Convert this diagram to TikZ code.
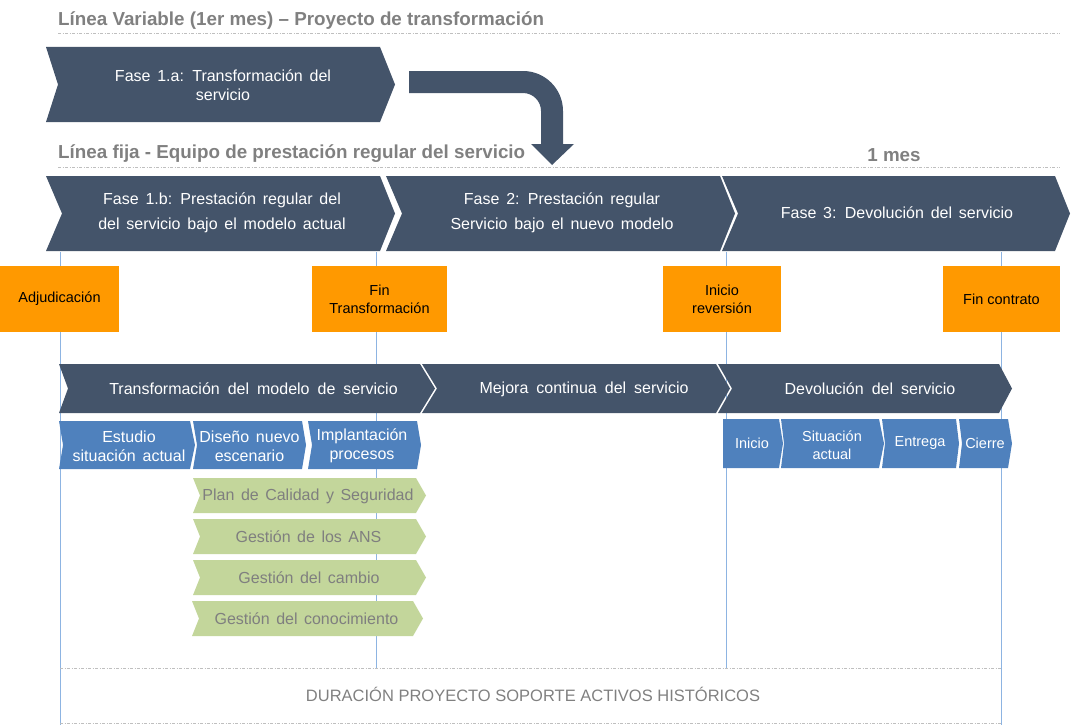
\documentclass[tikz,border=0pt]{standalone}
\usepackage{fontspec}
\setmainfont{Liberation Sans}
\definecolor{slate}{HTML}{44546A}
\definecolor{cblue}{HTML}{4F81BD}
\definecolor{cgreen}{HTML}{C3D69B}
\definecolor{corange}{HTML}{FF9900}
\definecolor{tgray}{HTML}{808080}
\definecolor{ggray}{HTML}{7F7F7F}
\definecolor{vline}{HTML}{8DB4E2}
\definecolor{dline}{HTML}{BFBFBF}
\newcommand\wsA{\spaceskip 6.8pt plus 1pt minus 1pt\relax}
\newcommand\wsB{\spaceskip 8pt plus 1pt minus 1pt\relax}
\newcommand\wsC{\spaceskip 6.5pt plus 1pt minus 1pt\relax}
% #1 colour, #2 x left, #3 x right-top, #4 tip depth, #5 notch depth, #6 y top, #7 y bottom
\newcommand\chev[7]{\fill[#1] (#2,#6) -- (#3,#6) -- ({#3+#4},{(#6+#7)/2}) -- (#3,#7) -- (#2,#7) -- ({#2+#5},{(#6+#7)/2}) -- cycle;}
\begin{document}
\begin{tikzpicture}[x=1pt,y=-1pt,
  dashline/.style={draw=dline, line width=0.8pt, dash pattern=on 3pt off 1.5pt on 1pt off 1.5pt},
  vl/.style={draw=vline, line width=0.9pt},
  ttl/.style={text=tgray, font=\bfseries\fontsize{18.8}{22}\selectfont, anchor=base west, inner sep=0pt},
  wtxt/.style={text=white, align=center, inner sep=0pt, font=\fontsize{16}{25}\selectfont\wsA},
  wtxtb/.style={text=white, align=center, inner sep=0pt, font=\fontsize{16}{19}\selectfont\wsA},
  wtxtr/.style={text=white, align=center, inner sep=0pt, font=\fontsize{16}{19}\selectfont\wsB},
  wtxts/.style={text=white, align=center, inner sep=0pt, font=\fontsize{14.5}{18}\selectfont},
  gtxt/.style={text=ggray, align=center, inner sep=0pt, font=\fontsize{16}{19}\selectfont\wsC},
  obox/.style={fill=corange, minimum height=66pt, inner sep=0pt, text=black, align=center, font=\fontsize{14.5}{18}\selectfont}
]
\useasboundingbox (0,0) rectangle (1073,725);

% timeline markers (behind everything)
\coordinate (v1t) at (60,252);   \coordinate (v1b) at (60,725);
\coordinate (v2t) at (376,252);  \coordinate (v2b) at (376,668);
\coordinate (v3t) at (726,252);  \coordinate (v3b) at (726,668);
\coordinate (v4t) at (1001,252); \coordinate (v4b) at (1001,725);
\draw[vl] (v1t) -- (v1b);
\draw[vl] (v2t) -- (v2b);
\draw[vl] (v3t) -- (v3b);
\draw[vl] (v4t) -- (v4b);

% titles and dashed rules
\node[ttl] (t1) at (58,25.5) {Línea Variable (1er mes) – Proyecto de transformación};
\coordinate (d1a) at (58,33); \coordinate (d1b) at (1060,33);
\draw[dashline] (d1a) -- (d1b);
\node[ttl] (t2) at (58,158) {Línea fija - Equipo de prestación regular del servicio};
\node[ttl, anchor=base] (t3) at (894,161.5) {1 mes};
\coordinate (d2a) at (58,167); \coordinate (d2b) at (1060,167);
\draw[dashline] (d2a) -- (d2b);

% Fase 1.a
\chev{slate}{46}{380}{15}{12}{47}{122}
\node[wtxtb] (f1a) at (223,85) {Fase 1.a: Transformación del\\servicio};

% curved arrow
\fill[slate] (409,71) -- (523,71) arc[start angle=90, end angle=0, radius=40pt]
  -- (563,144) -- (574,144) -- (552,165) -- (531,144) -- (541,144) -- (541,111)
  arc[start angle=0, end angle=90, radius=18pt] -- (409,93) -- cycle;

% phase row
\chev{slate}{46}{380}{15}{16}{176}{251}
\chev{slate}{386}{720}{15}{16}{176}{251}
\chev{slate}{722}{1055}{15}{16}{176}{251}
\node[wtxt] (f1b) at (222,213) {Fase 1.b: Prestación regular del\\del servicio bajo el modelo actual};
\node[wtxt] (f2) at (562,213) {Fase 2: Prestación regular\\Servicio bajo el nuevo modelo};
\node[wtxt] (f3) at (897,213) {Fase 3: Devolución del servicio};

% milestones
\node[obox, minimum width=119pt] (m1) at (59.5,299) {Adjudicación};
\node[obox, minimum width=135pt] (m2) at (379.5,299) {Fin\\Transformación};
\node[obox, minimum width=118pt] (m3) at (722,299) {Inicio\\reversión};
\node[obox, minimum width=117pt] (m4) at (1001.5,299) {Fin contrato};

% second row
\chev{slate}{59}{420}{15}{9}{364}{413}
\chev{slate}{422}{716}{14}{15}{364}{413}
\chev{slate}{718}{999}{13}{14}{364}{413}
\node[wtxtr] (r1) at (253.5,389) {Transformación del modelo de servicio};
\node[wtxtr] (r2) at (584,389) {Mejora continua del servicio};
\node[wtxtr] (r3) at (870,389) {Devolución del servicio};

% blue steps (left)
\chev{cblue}{59}{190}{5}{4}{421}{469}
\chev{cblue}{193}{302}{4}{4}{421}{469}
\chev{cblue}{308}{417}{4}{4}{421}{469}
\node[wtxtb] (b1) at (129,446) {Estudio\\situación actual};
\node[wtxtb] (b2) at (249.5,446) {Diseño nuevo\\escenario};
\node[wtxtb] (b3) at (362,446) {Implantación\\procesos};

% blue steps (right)
\chev{cblue}{723}{779}{4}{0}{419}{468}
\chev{cblue}{781}{879}{5}{3}{419}{468}
\chev{cblue}{882}{956}{3}{3}{419}{468}
\chev{cblue}{959}{1008}{4}{3}{419}{468}
\node[wtxts] (b4) at (752,443.5) {Inicio};
\node[wtxts] (b5) at (832,445) {Situación\\actual};
\node[wtxts] (b6) at (920,443.5) {Entrega};
\node[wtxts] (b7) at (985,443.5) {Cierre};

% green activities
\chev{cgreen}{193}{416}{10}{7}{478}{513}
\chev{cgreen}{193}{416}{10}{7}{519}{554}
\chev{cgreen}{193}{416}{10}{7}{560}{595}
\chev{cgreen}{192}{413}{10}{7}{601}{636}
\node[gtxt] (g1) at (308,496) {Plan de Calidad y Seguridad};
\node[gtxt] (g2) at (308.5,537) {Gestión de los ANS};
\node[gtxt] (g3) at (309,578) {Gestión del cambio};
\node[gtxt] (g4) at (306.5,619) {Gestión del conocimiento};

% bottom band
\coordinate (d3a) at (60,668); \coordinate (d3b) at (1001,668);
\coordinate (d4a) at (60,723); \coordinate (d4b) at (1001,723);
\draw[dashline] (d3a) -- (d3b);
\draw[dashline] (d4a) -- (d4b);
\node[text=tgray, inner sep=0pt, font=\fontsize{16.5}{20}\selectfont] (dur) at (533,694) {DURACIÓN PROYECTO SOPORTE ACTIVOS HISTÓRICOS};
\end{tikzpicture}
\end{document}
